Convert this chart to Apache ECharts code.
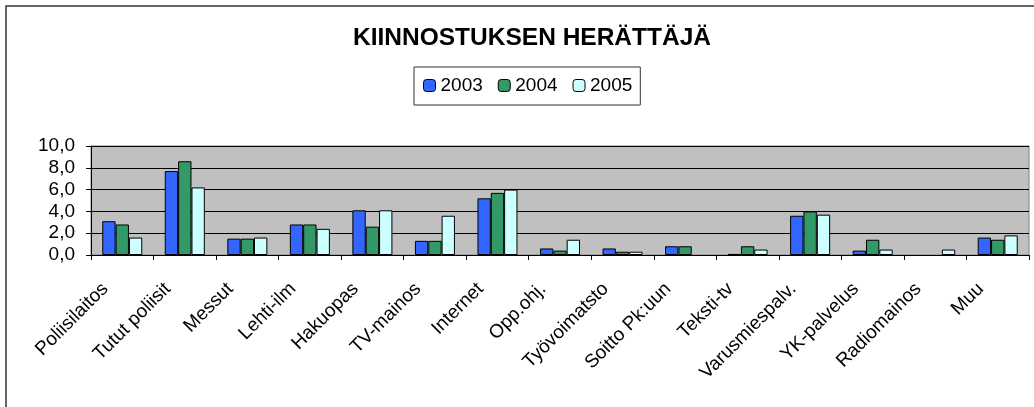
<!DOCTYPE html>
<html>
<head>
<meta charset="utf-8">
<script src="https://cdn.jsdelivr.net/npm/echarts@6/dist/echarts.min.js"></script>
<style>
  html, body { margin: 0; padding: 0; background: #fff; }
  #chart { width: 1034px; height: 407px; }
</style>
</head>
<body>
<div id="chart"></div>
<script>
// categories and yearly values
var categories = ['Poliisilaitos', 'Tutut poliisit', 'Messut', 'Lehti-ilm', 'Hakuopas', 'TV-mainos',
  'Internet', 'Opp.ohj.', 'Työvoimatsto', 'Soitto Pk:uun', 'Teksti-tv', 'Varusmiespalv.',
  'YK-palvelus', 'Radiomainos', 'Muu'];
var years = ['2003', '2004', '2005'];
var v2003 = [3.1, 7.7, 1.5, 2.8, 4.1, 1.3, 5.2, 0.6, 0.6, 0.8, 0.1, 3.6, 0.4, 0, 1.6];
var v2004 = [2.8, 8.6, 1.5, 2.8, 2.6, 1.3, 5.7, 0.4, 0.3, 0.8, 0.8, 4.0, 1.4, 0, 1.4];
var v2005 = [1.6, 6.2, 1.6, 2.4, 4.1, 3.6, 6.0, 1.4, 0.3, 0, 0.5, 3.7, 0.5, 0.5, 1.8];
var yTicks = [0, 2, 4, 6, 8, 10];

var colors = ['#3366ff', '#339966', '#ccffff'];
var font = '"Liberation Sans", Arial, sans-serif';

var chart = echarts.init(document.getElementById('chart'));

// zero values are not drawn in the original
function bars(vals) {
  return vals.map(function (v) { return v === 0 ? null : v; });
}

var option = {
  animation: false,
  backgroundColor: '#fff',
  textStyle: { fontFamily: font },
  title: {
    text: 'KIINNOSTUKSEN HERÄTTÄJÄ',
    left: 348,
    top: 21,
    textStyle: { fontFamily: font, fontSize: 24.5, fontWeight: 'bold', color: '#000' }
  },
  legend: {
    data: years,
    left: 414,
    top: 67,
    padding: [9, 8, 10, 9],
    itemGap: 15,
    itemWidth: 12,
    itemHeight: 12,
    borderColor: '#333',
    borderWidth: 1,
    textStyle: { fontFamily: font, fontSize: 19, color: '#000' },
    itemStyle: { borderColor: '#000', borderWidth: 1 }
  },
  graphic: [{
    type: 'rect',
    shape: { x: 6, y: 6, width: 1040, height: 420 },
    style: { fill: 'none', stroke: '#333', lineWidth: 1.5 },
    silent: true
  }],
  grid: {
    left: 91, right: 5, top: 146, bottom: 152,
    show: true,
    backgroundColor: '#c0c0c0',
    borderColor: '#808080',
    borderWidth: 1
  },
  xAxis: {
    type: 'category',
    data: categories,
    axisLine: { lineStyle: { color: '#000', width: 1 } },
    axisTick: { show: true, length: 5, lineStyle: { color: '#000' } },
    axisLabel: {
      rotate: 45,
      interval: 0,
      margin: 14,
      padding: [0, 24, 13, 0],
      fontFamily: font,
      fontSize: 19,
      color: '#000'
    }
  },
  yAxis: {
    type: 'value',
    min: yTicks[0],
    max: yTicks[yTicks.length - 1],
    interval: 2,
    axisLine: { show: true, lineStyle: { color: '#000', width: 1 } },
    axisTick: { show: true, length: 5, lineStyle: { color: '#000' } },
    splitLine: { show: true, lineStyle: { color: '#000', width: 1 } },
    axisLabel: {
      margin: 16,
      fontFamily: font,
      fontSize: 19,
      color: '#000',
      formatter: function (v) { return v.toFixed(1).replace('.', ','); }
    }
  },
  series: [v2003, v2004, v2005].map(function (vals, i) {
    return {
      name: years[i],
      type: 'bar',
      data: bars(vals),
      barGap: '0%',
      barCategoryGap: '36%',
      itemStyle: { color: colors[i], borderColor: '#000', borderWidth: 1 }
    };
  })
};

chart.setOption(option);
</script>
</body>
</html>
